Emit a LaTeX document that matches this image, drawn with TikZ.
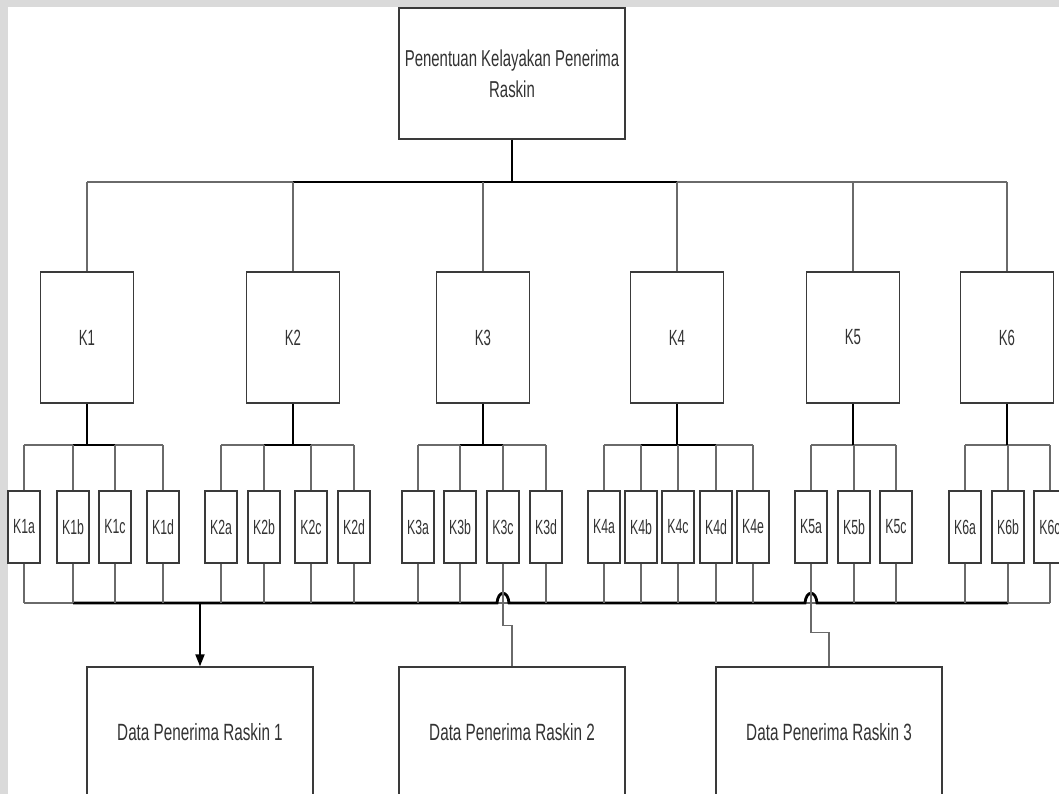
\documentclass[tikz,border=0pt]{standalone}
\usepackage{fontspec}
\setmainfont{Liberation Sans}
\newfontfamily\narA[FakeStretch=0.65]{Liberation Sans}
\newfontfamily\narB[FakeStretch=0.6]{Liberation Sans}
\usetikzlibrary{arrows.meta}
\definecolor{edge}{HTML}{3A3A3A}
\definecolor{wiregray}{HTML}{6A6A6A}
\definecolor{txt}{HTML}{333333}
\definecolor{wm}{HTML}{DADADA}
\begin{document}
\begin{tikzpicture}[x=1pt,y=-1pt,
  box/.style={draw=edge, line width=1.3pt, fill=white, inner sep=0pt, text=txt},
  topbox/.style={box, minimum width=226pt, minimum height=131pt, align=center, font=\narA\fontsize{23}{31}\selectfont},
  kbox/.style={box, minimum width=93pt, minimum height=131pt, font=\narB\fontsize{22}{24}\selectfont},
  subbox/.style={box, minimum width=32pt, minimum height=72pt, font=\narB\fontsize{20.5}{22}\selectfont},
  outbox/.style={box, minimum width=226pt, minimum height=130pt, font=\narA\fontsize{23.5}{26}\selectfont},
  wire/.style={draw=wiregray, line width=1.3pt},
  thinbus/.style={draw=wiregray, line width=2pt},
  thickbus/.style={draw=black, line width=2.8pt},
  arrowline/.style={draw=black, line width=2pt, -{Triangle[length=12pt,width=9pt]}},
]
\useasboundingbox (0,0) rectangle (1059,794);
\clip (0,0) rectangle (1059,794);
% watermark margins
\fill[wm] (0,0) rectangle (1059,7);
\fill[wm] (0,0) rectangle (8,794);

% top node
\node[topbox] (top) at (512,73.5) {Penentuan Kelayakan Penerima\\Raskin};

% criteria nodes
\foreach \n/\x in {1/87,2/293,3/483,4/677,5/853,6/1007}
  \node[kbox] (K\n) at (\x,337.5) {K\n};

% sub-criteria nodes
\foreach \n/\l/\x in {1/a/24,1/b/73,1/c/115,1/d/163,
                      2/a/221,2/b/264,2/c/311,2/d/354,
                      3/a/418,3/b/460,3/c/503,3/d/546,
                      4/a/604,4/b/641,4/c/678,4/d/716,4/e/753,
                      5/a/811,5/b/854,5/c/896,
                      6/a/965,6/b/1008,6/c/1050}
  \node[subbox] (K\n\l) at (\x,527) {K\n\l};

% output nodes
\node[outbox] (D1) at (200,732) {Data Penerima Raskin 1};
\node[outbox] (D2) at (512,732) {Data Penerima Raskin 2};
\node[outbox] (D3) at (829,732) {Data Penerima Raskin 3};

% bus coordinates
\coordinate (tb) at (512,182);
\coordinate (sb) at (0,445);
\coordinate (bb) at (0,603);

% top bus
\draw[thinbus] (K1.north |- tb) -- (K6.north |- tb);
\draw[thickbus] (K2.north |- tb) -- (K4.north |- tb);
\draw[draw=black, line width=2.2pt] (top.south) -- (tb);
\foreach \n in {1,...,6}
  \draw[wire] (K\n.north |- tb) -- (K\n.north);

% sub buses
\draw[thinbus] (K1a.north |- sb) -- (K1d.north |- sb);
\draw[thickbus] (K1b.north |- sb) -- (K1c.north |- sb);
\draw[thinbus] (K2a.north |- sb) -- (K2d.north |- sb);
\draw[thickbus] (K2b.north |- sb) -- (K2c.north |- sb);
\draw[thinbus] (K3a.north |- sb) -- (K3d.north |- sb);
\draw[thickbus] (K3b.north |- sb) -- (K3c.north |- sb);
\draw[thinbus] (K4a.north |- sb) -- (K4e.north |- sb);
\draw[thickbus] (K4b.north |- sb) -- (K4d.north |- sb);
\draw[thinbus] (K5a.north |- sb) -- (K5c.north |- sb);
\draw[thinbus] (K6a.north |- sb) -- (K6c.north |- sb);
\foreach \n in {1,...,6}
  \draw[draw=black, line width=2pt] (K\n.south) -- (K\n.south |- sb);
\foreach \s in {1a,1b,1c,1d,2a,2b,2c,2d,3a,3b,3c,3d,4a,4b,4c,4d,4e,5a,5b,5c,6a,6b,6c}
  \draw[wire] (K\s.north |- sb) -- (K\s.north);

% bottom bus with hops
\draw[thinbus] (K1a.south |- bb) -- (K6c.south |- bb);
\coordinate (h1) at (K3c.south |- bb);
\coordinate (h2) at (K5a.south |- bb);
\draw[thickbus] (K1b.south |- bb) -- ([xshift=-6pt]h1)
  .. controls ([xshift=-5pt,yshift=13pt]h1) and ([xshift=5pt,yshift=13pt]h1) .. ([xshift=6pt]h1)
  -- ([xshift=-6pt]h2)
  .. controls ([xshift=-5pt,yshift=13pt]h2) and ([xshift=5pt,yshift=13pt]h2) .. ([xshift=6pt]h2)
  -- (K6b.south |- bb);
\foreach \s in {1a,1b,1c,1d,2a,2b,2c,2d,3a,3b,3d,4a,4b,4c,4d,4e,5b,5c,6a,6b,6c}
  \draw[wire] (K\s.south) -- (K\s.south |- bb);

% outputs
\draw[arrowline] (D1.north |- bb) -- (D1.north);
\draw[wire] (K3c.south) -- ++(0,62) -| (D2.north);
\draw[wire] (K5a.south) -- ++(0,69) -| (D3.north);
\end{tikzpicture}
\end{document}
